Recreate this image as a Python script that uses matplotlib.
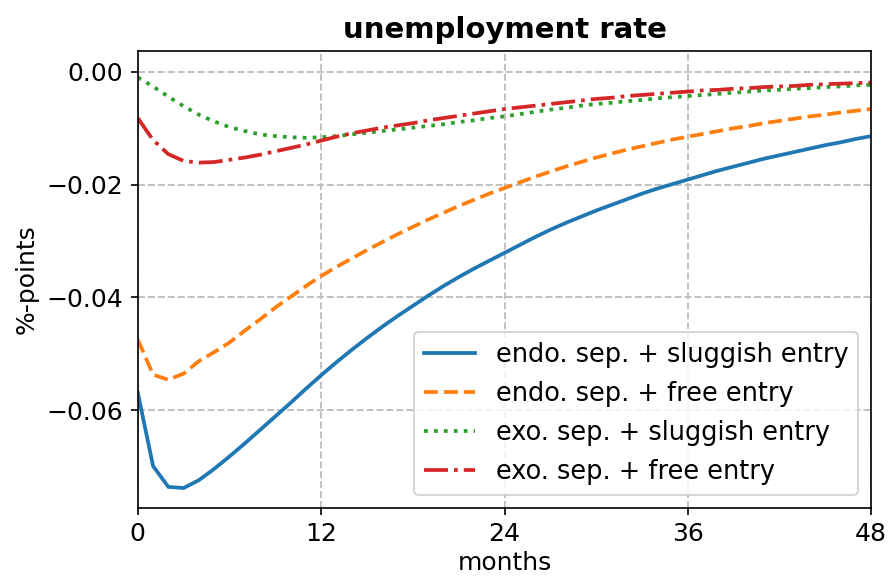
import numpy as np
import matplotlib
matplotlib.use("Agg")
import matplotlib.pyplot as plt

months = np.arange(0, 49)

endo_sluggish = [
    -0.0569, -0.0699, -0.0736, -0.0738, -0.0724, -0.0704, -0.0682, -0.0659, -0.0635, -0.0611,
    -0.0587, -0.0562, -0.0538, -0.0515, -0.0493, -0.0472, -0.0452, -0.0433, -0.0415, -0.0397,
    -0.0380, -0.0364, -0.0349, -0.0335, -0.0321, -0.0307, -0.0293, -0.0280, -0.0268, -0.0257,
    -0.0246, -0.0236, -0.0226, -0.0216, -0.0207, -0.0199, -0.0191, -0.0183, -0.0175, -0.0168,
    -0.0161, -0.0154, -0.0148, -0.0142, -0.0136, -0.0130, -0.0125, -0.0119, -0.0114,
]
endo_free = [
    -0.0475, -0.0537, -0.0546, -0.0535, -0.0513, -0.0497, -0.0480, -0.0459, -0.0439, -0.0418,
    -0.0399, -0.0380, -0.0362, -0.0346, -0.0331, -0.0316, -0.0302, -0.0288, -0.0275, -0.0262,
    -0.0250, -0.0238, -0.0227, -0.0216, -0.0206, -0.0196, -0.0186, -0.0177, -0.0168, -0.0160,
    -0.0152, -0.0145, -0.0138, -0.0132, -0.0126, -0.0120, -0.0115, -0.0110, -0.0105, -0.0100,
    -0.0096, -0.0091, -0.0087, -0.0083, -0.0079, -0.0076, -0.0072, -0.0069, -0.0066,
]
exo_sluggish = [
    -0.0010, -0.0026, -0.0044, -0.0061, -0.0076, -0.0088, -0.0098, -0.0105, -0.0111, -0.0114,
    -0.0116, -0.0117, -0.0116, -0.0114, -0.0111, -0.0108, -0.0105, -0.0102, -0.0099, -0.0096,
    -0.0093, -0.0089, -0.0086, -0.0082, -0.0079, -0.0075, -0.0071, -0.0067, -0.0064, -0.0060,
    -0.0057, -0.0055, -0.0052, -0.0050, -0.0047, -0.0045, -0.0043, -0.0041, -0.0039, -0.0037,
    -0.0035, -0.0033, -0.0032, -0.0030, -0.0029, -0.0027, -0.0026, -0.0024, -0.0023,
]
exo_free = [
    -0.0082, -0.0121, -0.0146, -0.0158, -0.0161, -0.0160, -0.0156, -0.0152, -0.0147, -0.0141,
    -0.0135, -0.0129, -0.0122, -0.0115, -0.0109, -0.0104, -0.0099, -0.0095, -0.0091, -0.0086,
    -0.0082, -0.0078, -0.0074, -0.0070, -0.0066, -0.0063, -0.0060, -0.0057, -0.0054, -0.0051,
    -0.0048, -0.0046, -0.0043, -0.0041, -0.0039, -0.0037, -0.0035, -0.0033, -0.0032, -0.0030,
    -0.0029, -0.0027, -0.0026, -0.0025, -0.0023, -0.0022, -0.0021, -0.0020, -0.0019,
]

labels = [
    "endo. sep. + sluggish entry",
    "endo. sep. + free entry",
    "exo. sep. + sluggish entry",
    "exo. sep. + free entry",
]
xticks = [0, 12, 24, 36, 48]
yticks = [0.0, -0.02, -0.04, -0.06]


def main() -> None:
    fig = plt.figure(figsize=(889 / 150, 579 / 150), dpi=150)
    ax = fig.add_axes([0.155, 0.123, 0.825, 0.789])

    ax.plot(months, endo_sluggish, color="tab:blue", linestyle="-", lw=1.8, label=labels[0])
    ax.plot(months, endo_free, color="tab:orange", linestyle="--", lw=1.8, label=labels[1])
    ax.plot(months, exo_sluggish, color="tab:green", linestyle=":", lw=1.8, label=labels[2])
    ax.plot(months, exo_free, color="tab:red", linestyle="-.", lw=1.8, label=labels[3])

    ax.set_xlim(0, 48)
    ax.set_ylim(-0.0773, 0.0037)
    ax.set_xticks(xticks)
    ax.set_yticks(yticks)
    ax.tick_params(labelsize=12)
    ax.grid(True, linestyle="--", color="0.75", lw=0.9)

    ax.set_title("unemployment rate", fontsize=14, fontweight="bold")
    ax.set_xlabel("months", fontsize=12, labelpad=2)
    ax.set_ylabel("%-points", fontsize=12)
    ax.legend(loc="lower right", fontsize=12.3, handletextpad=0.8)

    fig.savefig("out.png", dpi=150)


if __name__ == "__main__":
    main()
